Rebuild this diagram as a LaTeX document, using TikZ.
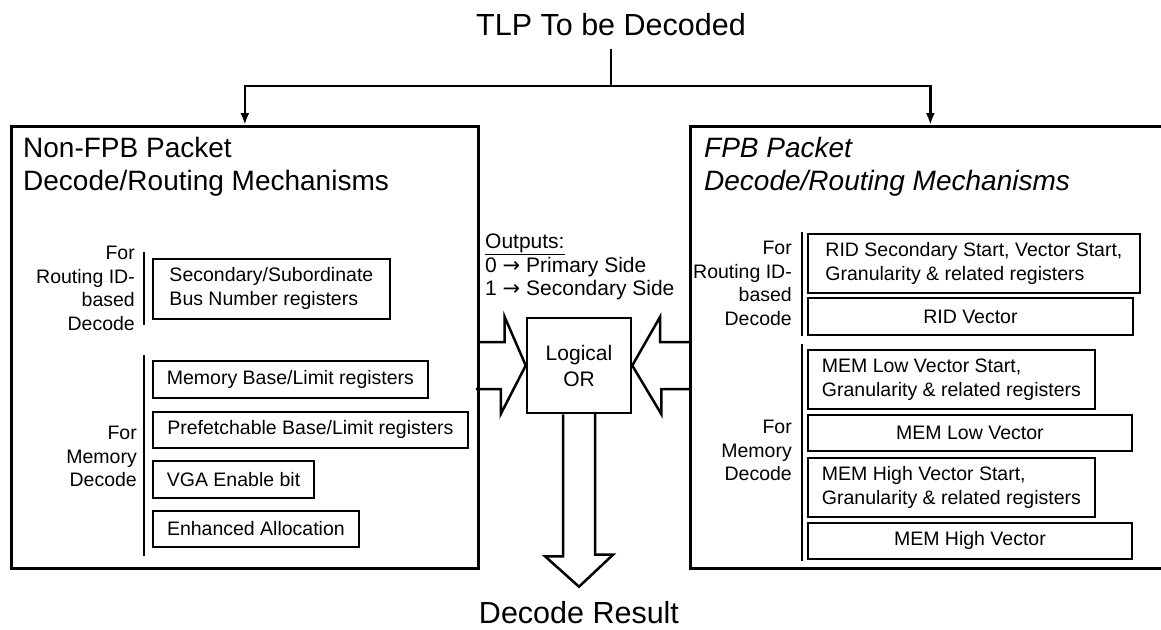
\documentclass[tikz,border=0pt]{standalone}
\usepackage{fontspec}
\setmainfont{Liberation Sans}
\newfontfamily\arrowfont{DejaVu Sans}
\usetikzlibrary{arrows.meta}

\begin{document}
\begin{tikzpicture}[x=1pt, y=-1pt,
        bigtext/.style={font=\fontsize{30.5}{36}\selectfont, inner sep=0pt},
        outerbox/.style={draw, line width=2.7pt, anchor=north west, minimum height=442pt},
        boxtitle/.style={font=\fontsize{28}{33}\selectfont, align=left, anchor=north west, inner sep=0pt},
        sidelabel/.style={font=\fontsize{19.5}{23.5}\selectfont, align=right, anchor=north east, inner sep=0pt},
        regbox/.style={draw, line width=1.8pt, anchor=north west, font=\fontsize{19.5}{24}\selectfont, inner xsep=14pt, inner ysep=0pt, align=left},
        bar/.style={line width=2pt},
        conn/.style={line width=2.5pt},
        tip/.style={conn, -{Latex[length=12pt, width=9pt]}},
        blockarrow/.style={line width=2.5pt, line join=miter}]
                \useasboundingbox (0,0) rectangle (1161,629);

                \node[bigtext, anchor=base] (tlp) at (611,35) {TLP To be Decoded};
                \coordinate (tlptail) at (611,49);
                \coordinate (split) at (611,86);

                \node[outerbox, minimum width=467pt] (nonfpb) at (10,125) {};
                \node[outerbox, minimum width=480pt] (fpb) at (689,125) {};

                \draw[conn] (tlptail) -- (split);
                \draw[tip] (split) -| (nonfpb.north);
                \draw[tip] (split) -| (fpb.north);

                \node[boxtitle] (nonfpbtitle) at (23,137) {Non-FPB Packet\\Decode/Routing Mechanisms};
                \node[boxtitle, font=\fontsize{28}{33}\selectfont\itshape] (fpbtitle) at (704,137) {FPB Packet\\Decode/Routing Mechanisms};

                \node[sidelabel] (lroutelbl) at (135,246) {For\\Routing ID-\\based\\Decode};
                \draw[bar] (144,252) -- (144,325);
                \node[regbox, minimum width=237pt, minimum height=60pt] (secsub) at (152,258) {Secondary/Subordinate\\Bus Number registers};

                \node[sidelabel] (lmemlbl) at (137,426) {For\\Memory\\Decode};
                \draw[bar] (144,355) -- (144,556);
                \node[regbox, minimum width=275pt, minimum height=37pt] (membase) at (152,360) {Memory Base/Limit registers};
                \node[regbox, minimum width=315pt, minimum height=36pt] (prefetch) at (152,411) {Prefetchable Base/Limit registers};
                \node[regbox, minimum width=161pt, minimum height=37pt] (vga) at (152,460) {VGA Enable bit};
                \node[regbox, minimum width=206pt, minimum height=36pt] (ea) at (152,510) {Enhanced Allocation};

                \node[sidelabel] (rroutelbl) at (792,241) {For\\Routing ID-\\based\\Decode};
                \draw[bar] (802,232) -- (802,336);
                \node[regbox, minimum width=332pt, minimum height=59pt] (ridstart) at (807,233) {RID Secondary Start, Vector Start,\\Granularity \& related registers};
                \node[regbox, align=center, minimum width=325pt, minimum height=37pt] (ridvec) at (807,297) {RID Vector};

                \node[sidelabel] (rmemlbl) at (792,420) {For\\Memory\\Decode};
                \draw[bar] (802,344) -- (802,561);
                \node[regbox, minimum width=287pt, minimum height=59pt] (lowstart) at (807,349) {MEM Low Vector Start,\\Granularity \& related registers};
                \node[regbox, align=center, minimum width=324pt, minimum height=36pt] (lowvec) at (807,414) {MEM Low Vector};
                \node[regbox, minimum width=287pt, minimum height=59pt] (highstart) at (807,457) {MEM High Vector Start,\\Granularity \& related registers};
                \node[regbox, align=center, minimum width=324pt, minimum height=36pt] (highvec) at (807,522) {MEM High Vector};

                \node[font=\fontsize{21}{23.5}\selectfont, align=left, anchor=north west, inner sep=0pt] (outputs) at (485,234) {\underline{Outputs:}\\0 {\arrowfont →} Primary Side\\1 {\arrowfont →} Secondary Side};
                \node[draw, line width=2.5pt, minimum width=104pt, minimum height=95pt, align=center, font=\fontsize{21}{26}\selectfont] (orgate) at (579,365.5) {Logical\\OR};
                \node[bigtext, anchor=base, inner sep=14pt] (result) at (579,623) {Decode Result};

                \draw[blockarrow] (nonfpb.east |- orgate.west) ++(0,-23.5) -- ++(25,0) -- ++(0,-25) -- (orgate.west) -- ++(-25,48.5) -- ++(0,-25) -- ++(-25,0);
                \draw[blockarrow] (fpb.west |- orgate.east) ++(0,-23.5) -- ++(-29,0) -- ++(0,-25) -- (orgate.east) -- ++(29,48.5) -- ++(0,-25) -- ++(29,0);
                \draw[blockarrow] (orgate.south) ++(-16,0) -- ++(0,142) -- ++(-18,0) -- (result.north) -- ++(34,-32) -- ++(-18,0) -- ++(0,-142);
            \end{tikzpicture}
\end{document}
